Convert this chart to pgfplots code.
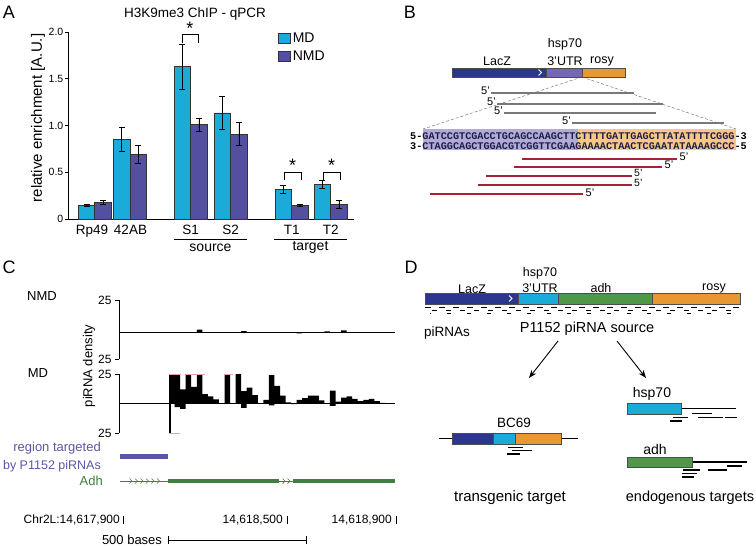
\documentclass[border=0pt]{standalone}
\usepackage{fontspec}
\setmainfont{Liberation Sans}
\newfontfamily\seqfont{Liberation Mono}
\usepackage{pgfplots}
\pgfplotsset{compat=1.18}
\usetikzlibrary{arrows.meta}
\definecolor{mdc}{RGB}{26,171,217}
\definecolor{nmdc}{RGB}{84,80,160}
\definecolor{lacz}{RGB}{43,55,140}
\definecolor{utr}{RGB}{118,104,176}
\definecolor{rosy}{RGB}{232,152,50}
\definecolor{lpurp}{RGB}{178,171,216}
\definecolor{lorange}{RGB}{245,200,138}
\definecolor{seqc}{RGB}{28,30,72}
\definecolor{gline}{RGB}{120,120,120}
\definecolor{rline}{RGB}{165,35,55}
\definecolor{regblue}{RGB}{92,86,166}
\definecolor{adhg}{RGB}{62,128,62}
\definecolor{adhD}{RGB}{78,152,72}
\definecolor{clipk}{RGB}{232,160,170}
\newcommand\fs[1]{\fontsize{#1}{#1}\selectfont}
\begin{document}
\begin{tikzpicture}[x=1pt,y=-1pt]
\useasboundingbox (0,0) rectangle (756,546);
% ---------------- Panel letters
\node[font=\fs{18}] at (9,12) {A};
\node[font=\fs{18}] at (410,12) {B};
\node[font=\fs{18}] at (9,267) {C};
\node[font=\fs{18}] at (411,267) {D};
% ---------------- Panel A
\node[font=\fs{13.5}] at (195,14) {H3K9me3 ChIP - qPCR};
\node[font=\fs{15},rotate=90] at (38,118) {relative enrichment [A.U.]};
\begin{axis}[at={(68pt,-219pt)}, anchor=south west, scale only axis,
  width=286pt, height=187pt, xmin=68, xmax=354, ymin=0, ymax=2,
  axis x line*=bottom, axis y line*=left, axis line style={line width=0.7pt},
  ytick={0,0.5,1,1.5,2}, yticklabels={0,0.5,1.0,1.5,2.0},
  tick align=outside, major tick length=3pt, tick style={black,line width=0.6pt},
  xtick={92,130.5,190.7,230.7,291.7,330.7}, xticklabels={Rp49,42AB,S1,S2,T1,T2},
  major x tick style=transparent,
  xticklabel style={font=\fs{13.5}},
  yticklabel style={font=\fs{10.5},inner sep=1.5pt},
  clip=false,
  legend style={at={(axis cs:275,2.04)}, anchor=north west, draw=none, fill=none,
    font=\fs{14}, row sep=3pt},
  legend cell align=left,
  legend image code/.code={\draw[#1] (0pt,-5pt) rectangle (12pt,5pt);},
]
\addplot[ybar, bar width=16.5, bar shift=0pt, fill=mdc, draw=black!80, line width=0.6pt,
  error bars/.cd, y dir=both, y explicit,
  error bar style={black,line width=0.8pt},
  error mark options={rotate=90,mark size=3pt,line width=0.8pt,black}]
  coordinates {(86.5,0.145) +- (0,0.012) (121.75,0.855) +- (0,0.13) (182.45,1.63) +- (0,0.24)
   (222.45,1.135) +- (0,0.175) (283.45,0.318) +- (0,0.043) (322.45,0.371) +- (0,0.042)};
\addlegendentry{MD}
\addplot[ybar, bar width=16.5, bar shift=0pt, fill=nmdc, draw=black!80, line width=0.6pt,
  error bars/.cd, y dir=both, y explicit,
  error bar style={black,line width=0.8pt},
  error mark options={rotate=90,mark size=3pt,line width=0.8pt,black}]
  coordinates {(103.0,0.175) +- (0,0.022) (138.25,0.693) +- (0,0.097) (198.95,1.01) +- (0,0.068)
   (238.95,0.907) +- (0,0.125) (299.95,0.143) +- (0,0.01) (338.95,0.154) +- (0,0.045)};
\addlegendentry{NMD}
\draw[line width=0.7pt] (axis cs:182,1.88) -- (axis cs:182,1.98) -- (axis cs:198,1.98) -- (axis cs:198,1.88);
\node[font=\fs{18},inner sep=0pt] at (axis cs:190,2.035) {*};
\draw[line width=0.7pt] (axis cs:284,0.415) -- (axis cs:284,0.50) -- (axis cs:301,0.50) -- (axis cs:301,0.415);
\node[font=\fs{18},inner sep=0pt] at (axis cs:292.5,0.575) {*};
\draw[line width=0.7pt] (axis cs:323,0.415) -- (axis cs:323,0.50) -- (axis cs:340,0.50) -- (axis cs:340,0.415);
\node[font=\fs{18},inner sep=0pt] at (axis cs:331.5,0.575) {*};
\end{axis}
\draw[line width=0.7pt] (174,239) -- (247,239);
\node[font=\fs{14}] at (210.5,247.5) {source};
\draw[line width=0.7pt] (274,239) -- (347,239);
\node[font=\fs{14}] at (310.5,247.5) {target};
% ---------------- Panel B
\draw[gline, densely dashed, line width=0.5pt] (582,77) -- (423,129);
\draw[gline, densely dashed, line width=0.5pt] (582,77) -- (736,129);
\fill[lacz] (452,68) rectangle (546,77);
\fill[utr] (546,68) rectangle (582,77);
\fill[rosy] (582,68) rectangle (625,77);
\draw[black!70,line width=0.4pt] (452,68) rectangle (625,77);
\draw[black!70,line width=0.4pt] (546,68) -- (546,77) (582,68) -- (582,77);
\draw[white,line width=0.9pt] (538.5,69.5) -- (541.5,72.5) -- (538.5,75.5);
\node[font=\fs{12.5}] at (497,61) {LacZ};
\node[font=\fs{12.5}] at (565,44) {hsp70};
\node[font=\fs{12.5}] at (565,61) {3’UTR};
\node[font=\fs{12.5}] at (602,61) {rosy};
% sense piRNAs
\draw[gline,line width=2.2pt] (491,93) -- (634,93);
\draw[gline,line width=2.2pt] (497,104) -- (663,104);
\draw[gline,line width=2.2pt] (504,113) -- (656,113);
\draw[gline,line width=2.2pt] (572,123) -- (724,123);
\node[font=\fs{11},anchor=east,inner sep=1pt] at (491,91) {5’};
\node[font=\fs{11},anchor=east,inner sep=1pt] at (497,102) {5’};
\node[font=\fs{11},anchor=east,inner sep=1pt] at (504,111) {5’};
\node[font=\fs{11},anchor=east,inner sep=1pt] at (572,121) {5’};
% sequence box
\fill[lpurp] (423,129) rectangle (578,150);
\fill[lorange] (578,129) rectangle (736,150);
\node[font=\seqfont\bfseries\fs{10.2},text=seqc,inner sep=0pt] at (578.5,136) {\textcolor{black}{5-}GATCCGTCGACCTGCAGCCAAGCTTCTTTTGATTGAGCTTATATTTTCGGG\textcolor{black}{-3}};
\node[font=\seqfont\bfseries\fs{10.2},text=seqc,inner sep=0pt] at (578.5,146) {\textcolor{black}{3-}CTAGGCAGCTGGACGTCGGTTCGAAGAAAACTAACTCGAATATAAAAGCCC\textcolor{black}{-5}};
% antisense piRNAs
\draw[rline,line width=2.4pt] (522,159) -- (677,159);
\draw[rline,line width=2.4pt] (514,167) -- (662,167);
\draw[rline,line width=2.4pt] (486,176) -- (632,176);
\draw[rline,line width=2.4pt] (478,185) -- (632,185);
\draw[rline,line width=2.4pt] (430,194) -- (583,194);
\node[font=\fs{11},anchor=west,inner sep=0.5pt] at (679,157) {5’};
\node[font=\fs{11},anchor=west,inner sep=0.5pt] at (664,165) {5’};
\node[font=\fs{10.5},anchor=west,inner sep=0pt] at (634,172.5) {5’};
\node[font=\fs{10.5},anchor=west,inner sep=0pt] at (634,182.5) {5’};
\node[font=\fs{11},anchor=west,inner sep=0.5pt] at (585,193) {5’};
% ---------------- Panel C
\node[font=\fs{13}] at (42,296) {NMD};
\node[font=\fs{13}] at (38,373) {MD};
\node[font=\fs{13},rotate=90] at (89,366) {piRNA density};
\begin{axis}[at={(119pt,-359pt)}, anchor=south west, scale only axis,
  width=276pt, height=59pt, xmin=119, xmax=395, ymin=-20, ymax=25,
  axis x line=middle, axis y line=left, axis line style={-,line width=0.6pt},
  xtick=\empty, ytick={-20,25}, yticklabels={25,25},
  tick align=outside, major tick length=4pt, tick style={black,line width=0.6pt},
  yticklabel style={font=\fs{12}}, clip=false]
\addplot[ybar, bar width=5.55, bar shift=0pt, fill=black, draw=none]
  coordinates {(171.8,0.3) (177.3,0.3) (188.45,0.5) (199.55,2.5) (227.3,0.4) (243.95,1.2)
   (299.45,-0.5) (316.1,0.4) (327.2,1.0) (343.85,1.8) (349.4,0.5)};
\end{axis}
\begin{axis}[at={(119pt,-433pt)}, anchor=south west, scale only axis,
  width=276pt, height=59pt, xmin=119, xmax=395, ymin=-25, ymax=25,
  axis x line=middle, axis y line=left, axis line style={-,line width=0.6pt},
  xtick=\empty, ytick={-25,25}, yticklabels={25,25},
  tick align=outside, major tick length=4pt, tick style={black,line width=0.6pt},
  yticklabel style={font=\fs{12}}, clip=false]
\addplot[ybar, bar width=5.55, bar shift=0pt, fill=black, draw=none]
  coordinates {(171.8,25) (177.3,25) (182.9,12) (188.45,25) (194.0,14) (199.55,25) (205.1,8)
   (210.65,6) (216.2,3.6) (227.3,25) (238.4,25) (243.95,10.5) (249.5,13.5) (255.05,7)
   (266.15,3) (271.7,24) (277.25,15) (282.8,6.6) (288.35,1) (299.45,3) (305.0,4.5)
   (310.55,6.6) (316.1,6.6) (321.65,2.7) (332.75,11) (338.3,1.5) (343.85,5) (349.4,6)
   (354.95,4) (360.5,2) (366.05,3) (371.6,4) (377.15,2) (382.7,0.6)};
\addplot[ybar, bar width=5.55, bar shift=0pt, fill=black, draw=none]
  coordinates {(177.3,-3) (182.9,-4.5) (243.95,-3.6) (271.7,-1.5) (332.75,-2) (293.9,-0.5)};
\addplot[ybar, bar width=2, bar shift=0pt, fill=black, draw=none]
  coordinates {(170,-25)};
\draw[clipk,line width=0.8pt] (axis cs:169,25) -- (axis cs:181,25);
\draw[clipk,line width=0.8pt] (axis cs:186,25) -- (axis cs:205,25);
\draw[clipk,line width=0.8pt] (axis cs:224.5,25) -- (axis cs:233,25);
\draw[clipk,line width=0.8pt] (axis cs:169,-25) -- (axis cs:180,-25);
\end{axis}
\node[font=\fs{13},anchor=east,text=regblue,inner sep=0pt] at (101,448) {region targeted};
\node[font=\fs{12.5},anchor=east,text=regblue,inner sep=0pt] at (101,466) {by P1152 piRNAs};
\draw[regblue,line width=5pt] (120,456) -- (168,456);
\node[font=\fs{13},anchor=east,text=adhg,inner sep=0pt] at (103,481) {Adh};
\draw[adhg,line width=0.8pt] (120,481) -- (168,481);
\foreach \xx in {131,136.5,142,147.5,153,158.5} {\draw[adhg,line width=0.7pt] (\xx-1.5,478.5) -- (\xx+1,481) -- (\xx-1.5,483.5);}
\draw[adhg,line width=4.5pt] (168,481) -- (279,481);
\draw[adhg,line width=0.8pt] (279,481) -- (293,481);
\foreach \xx in {284,289} {\draw[adhg,line width=0.7pt] (\xx-1.5,478.5) -- (\xx+1,481) -- (\xx-1.5,483.5);}
\draw[adhg,line width=4.5pt] (293,481) -- (395,481);
\node[font=\fs{12},anchor=east,inner sep=0pt] at (120,520) {Chr2L:14,617,900};
\draw[line width=0.7pt] (123,516) -- (123,524);
\node[font=\fs{12},anchor=east,inner sep=0pt] at (283,520) {14,618,500};
\draw[line width=0.7pt] (287,516) -- (287,524);
\node[font=\fs{12},anchor=east,inner sep=0pt] at (392,520) {14,618,900};
\draw[line width=0.7pt] (396,516) -- (396,524);
\node[font=\fs{13}] at (132,540) {500 bases};
\draw[line width=0.7pt] (168,540) -- (306,540) (168,536) -- (168,544) (306,536) -- (306,544);
% ---------------- Panel D
\node[font=\fs{12.5}] at (472,289) {LacZ};
\node[font=\fs{12.5}] at (540,273) {hsp70};
\node[font=\fs{12.5}] at (540,288) {3’UTR};
\node[font=\fs{12.5}] at (601,288) {adh};
\node[font=\fs{12.5}] at (714,288) {rosy};
\fill[lacz] (425,293) rectangle (518,304);
\fill[mdc] (518,293) rectangle (558,304);
\fill[adhD] (558,293) rectangle (652,304);
\fill[rosy] (652,293) rectangle (740,304);
\draw[black!70,line width=0.4pt] (425,293) rectangle (740,304) (518,293) -- (518,304) (558,293) -- (558,304) (652,293) -- (652,304);
\draw[white,line width=0.9pt] (509,295.5) -- (512,298.5) -- (509,301.5);
\draw[line width=0.9pt, dash pattern=on 6pt off 8pt] (425,307) -- (740,307);
\draw[line width=0.9pt, dash pattern=on 5pt off 9pt, dash phase=9pt] (427,310.5) -- (738,310.5);
\draw[line width=0.9pt, dash pattern=on 4pt off 16pt, dash phase=3pt] (430,313.5) -- (735,313.5);
\node[font=\fs{14.5}] at (587,329) {P1152 piRNA source};
\node[font=\fs{13.5}] at (447,333) {piRNAs};
\draw[-{Stealth[length=8pt,width=6pt]}, line width=0.9pt] (558,341) -- (529,378);
\draw[-{Stealth[length=8pt,width=6pt]}, line width=0.9pt] (617,341) -- (646,378);
% transgenic target
\node[font=\fs{13.5}] at (514,423) {BC69};
\draw[line width=1.5pt] (439,438.5) -- (578,438.5);
\fill[lacz] (452,433) rectangle (493,444);
\fill[mdc] (493,433) rectangle (515,444);
\fill[rosy] (515,433) rectangle (561,444);
\draw[black!70,line width=0.4pt] (452,433) rectangle (561,444) (493,433) -- (493,444) (515,433) -- (515,444);
\draw[line width=1.2pt] (508,447.5) -- (523,447.5) (512,450.8) -- (532,450.8) (507,454) -- (520,454);
\node[font=\fs{15}] at (510,498) {transgenic target};
% endogenous targets
\node[font=\fs{14}] at (652,394) {hsp70};
\draw[line width=1.5pt] (681,408.5) -- (736,408.5);
\fill[mdc] (627,403) rectangle (681,414);
\draw[black!70,line width=0.4pt] (627,403) rectangle (681,414);
\draw[line width=1.2pt] (692,413.5) -- (712,413.5) (673,417.5) -- (688,417.5) (698,417.5) -- (723,417.5) (725,417.5) -- (737,417.5) (670,421) -- (682,421);
\node[font=\fs{14}] at (655,449) {adh};
\draw[line width=1.5pt] (692,462) -- (747,462);
\fill[adhD] (627,457) rectangle (692,467);
\draw[black!70,line width=0.4pt] (627,457) rectangle (692,467);
\draw[line width=1.2pt] (727,466) -- (742,466) (683,470) -- (700,470) (708,470) -- (727,470) (682,473.5) -- (697,473.5) (682,477) -- (694,477);
\node[font=\fs{14.5}] at (690,498) {endogenous targets};
\end{tikzpicture}
\end{document}
